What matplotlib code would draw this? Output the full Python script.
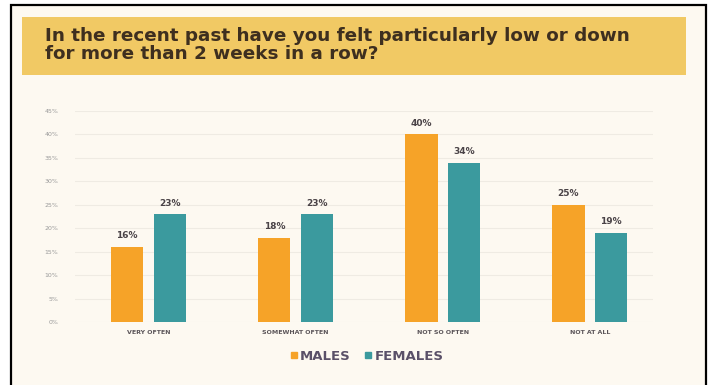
import numpy as np
import matplotlib.pyplot as plt
from matplotlib.patches import Rectangle
from matplotlib.lines import Line2D

# survey answers and share of respondents (%)
answers = ["VERY OFTEN", "SOMEWHAT OFTEN", "NOT SO OFTEN", "NOT AT ALL"]
males = [16, 18, 40, 25]
females = [23, 23, 34, 19]
y_ticks = [0, 5, 10, 15, 20, 25, 30, 35, 40, 45]

orange = "#f6a328"
teal = "#3b9a9e"
cream = "#fdf9f1"
text_dark = "#4a4347"

W, H = 715, 385
fig = plt.figure(figsize=(W / 100, H / 100), dpi=100)
fig.patch.set_facecolor("white")

# card with black frame (bottom edge runs off the image)
fig.patches.append(Rectangle((11 / W, -0.05), 695 / W, 1.05 - 5 / H,
                             transform=fig.transFigure, facecolor=cream,
                             edgecolor="black", linewidth=1.6, zorder=-2))
# title banner
fig.patches.append(Rectangle((22 / W, 1 - 75 / H), 664 / W, 58 / H,
                             transform=fig.transFigure, facecolor="#f1c964",
                             edgecolor="none", zorder=-1))
fig.text(45 / W, 1 - 36 / H, "In the recent past have you felt particularly low or down",
         fontsize=13.2, fontweight="bold", color="#3e2f1f", va="center", ha="left")
fig.text(45 / W, 1 - 54 / H, "for more than 2 weeks in a row?",
         fontsize=13.2, fontweight="bold", color="#3e2f1f", va="center", ha="left")

ax = fig.add_axes([75 / W, 63 / H, 578 / W, 211 / H])
ax.set_facecolor("none")
ax.set_zorder(2)

x = np.arange(len(answers))
w = 0.22
off = 0.145
b1 = ax.bar(x - off, males, width=w, color=orange, zorder=3)
b2 = ax.bar(x + off, females, width=w, color=teal, zorder=3)

for bars, vals in ((b1, males), (b2, females)):
    for bar, v in zip(bars, vals):
        ax.text(bar.get_x() + bar.get_width() / 2, v + 1.4, f"{v}%",
                ha="center", va="bottom", fontsize=6.5, fontweight="bold",
                color=text_dark)

ax.set_xlim(-0.5, 3.43)
ax.set_ylim(0, 45)
ax.set_yticks(y_ticks)
ax.set_yticklabels([f"{t}%" for t in y_ticks])
ax.set_xticks(x)
ax.set_xticklabels(answers)
ax.tick_params(axis="y", length=0, labelsize=4.5, labelcolor="#9a9a9a", pad=12)
ax.tick_params(axis="x", length=0, labelsize=4.5, labelcolor="#5a5458", pad=6)
for lab in ax.get_xticklabels():
    lab.set_fontweight("bold")
ax.grid(axis="y", color="#efebe3", linewidth=0.8, zorder=0)
for s in ax.spines.values():
    s.set_visible(False)

handles = [Line2D([], [], marker="s", linestyle="none", color=orange, markersize=4),
           Line2D([], [], marker="s", linestyle="none", color=teal, markersize=4)]
fig.legend(handles, ["MALES", "FEMALES"], loc="center", ncol=2,
           bbox_to_anchor=(366 / W, 1 - 356 / H), frameon=False,
           handletextpad=0.1, columnspacing=0.9, handlelength=0.8,
           prop={"size": 9.5, "weight": "bold"}, labelcolor="#5a5068")

fig.savefig("out.png", dpi=100, facecolor=fig.get_facecolor())
